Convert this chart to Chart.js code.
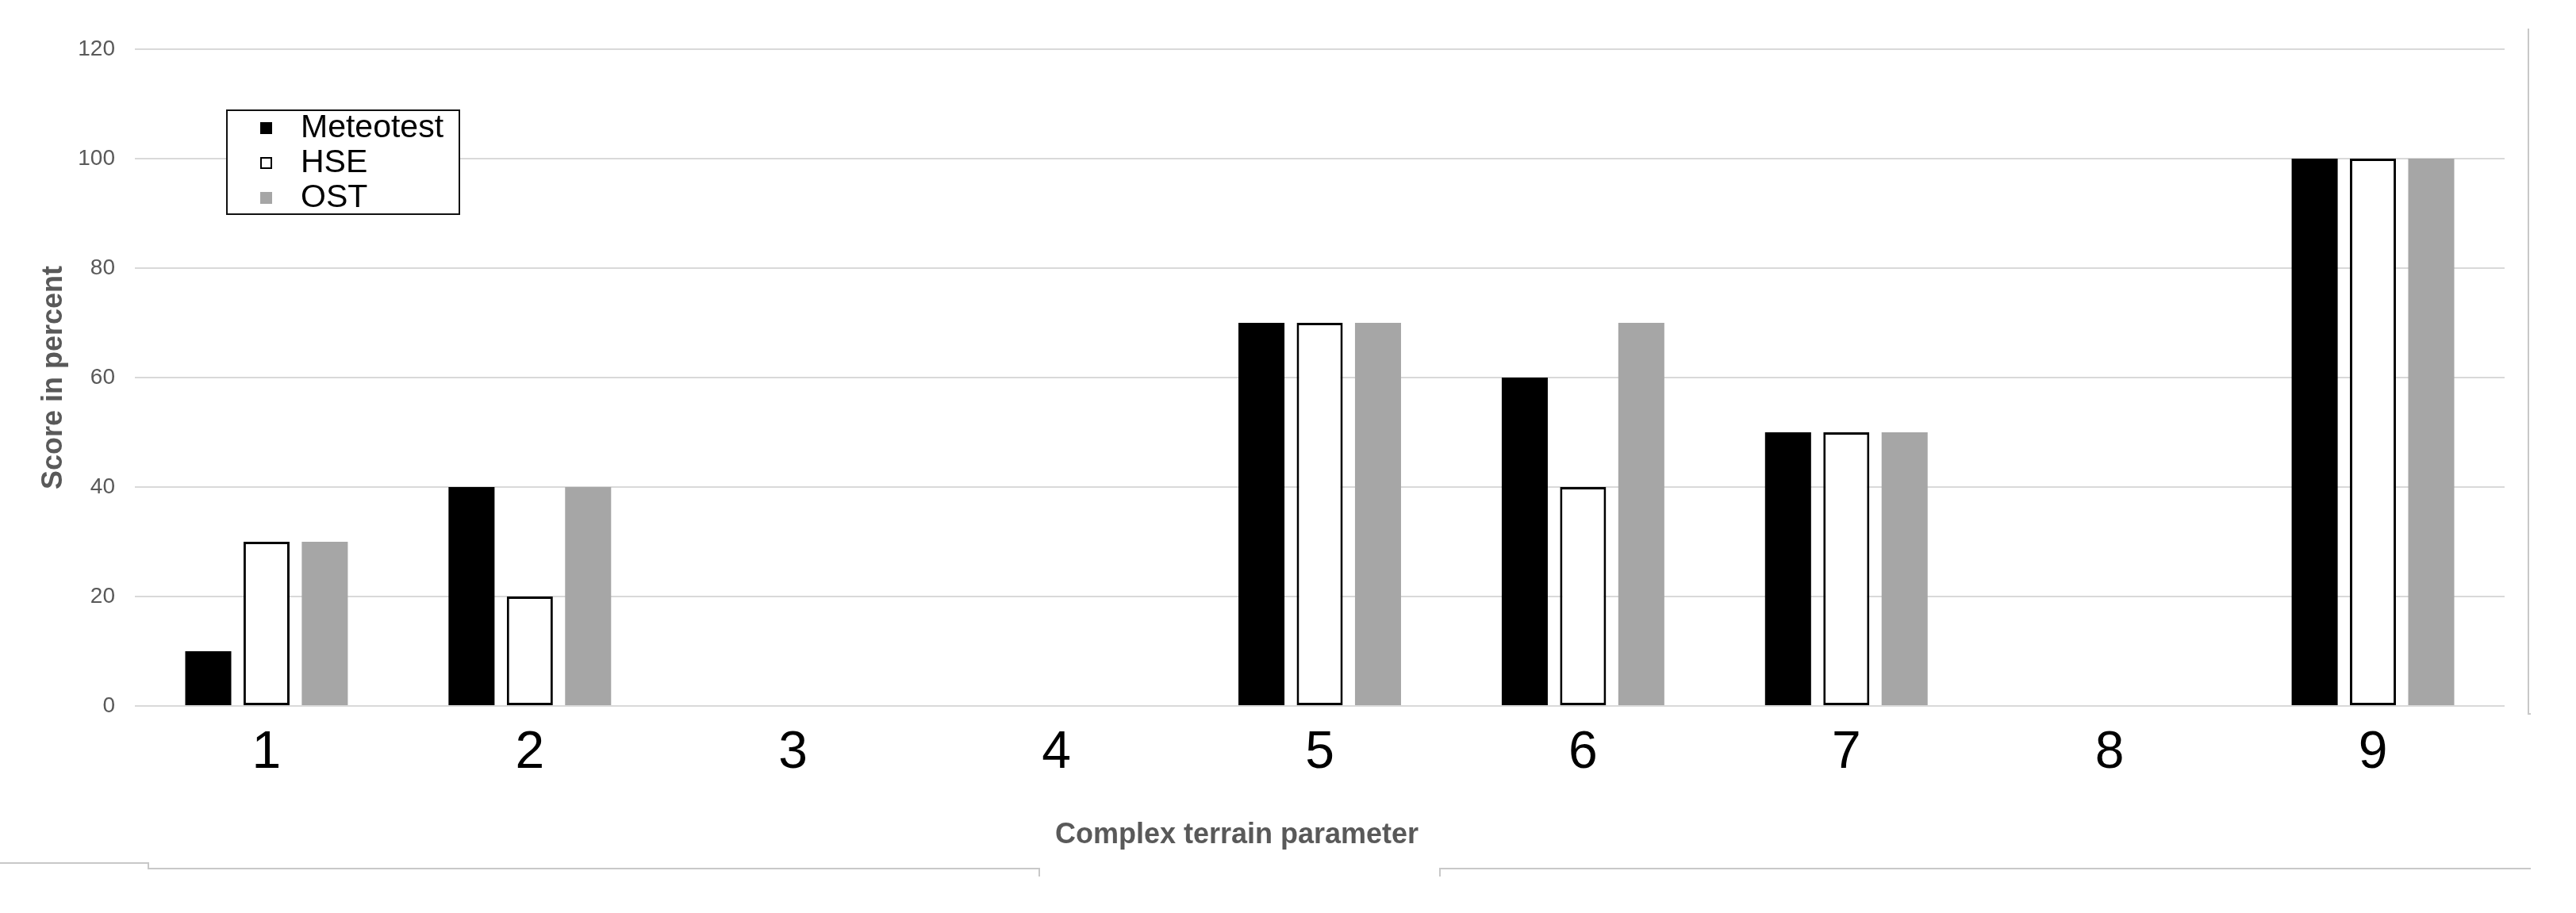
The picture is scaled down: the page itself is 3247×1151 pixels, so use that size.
<!DOCTYPE html>
<html>
<head>
<meta charset="utf-8">
<script src="https://cdn.jsdelivr.net/npm/chart.js@4/dist/chart.umd.min.js"></script>
<style>
  html, body { margin: 0; padding: 0; background: #fff; }
  #wrap { position: relative; width: 3247px; height: 1151px; overflow: hidden; }
  #chart { position: absolute; left: 0; top: 0; }
  .ln { position: absolute; background: #c8c8c8; }
  #legend { position: absolute; left: 285px; top: 138px; width: 291px; height: 129px;
            border: 2px solid #111; background: #fff; font-family: "Liberation Sans", Arial, sans-serif; }
  .item { position: absolute; left: 0; height: 44px; width: 100%; }
  .mk { position: absolute; left: 41px; width: 15px; height: 15px; box-sizing: border-box; }
  .tx { position: absolute; left: 92px; font-size: 41px; line-height: 44px; color: #000; }
</style>
</head>
<body>
<div id="wrap">
  <canvas id="chart" width="3247" height="1151"></canvas>
  <div id="legend"></div>
  <!-- page frame lines -->
  <div class="ln" style="left:3186px; top:36px; width:2px; height:865px;"></div>
  <div class="ln" style="left:3186px; top:899px; width:4px; height:2px;"></div>
  <div class="ln" style="left:0px; top:1087px; width:188px; height:2px;"></div>
  <div class="ln" style="left:186px; top:1087px; width:2px; height:9px;"></div>
  <div class="ln" style="left:186px; top:1094px; width:1124px; height:2px;"></div>
  <div class="ln" style="left:1309px; top:1094px; width:2px; height:11px;"></div>
  <div class="ln" style="left:1814px; top:1094px; width:2px; height:11px;"></div>
  <div class="ln" style="left:1814px; top:1094px; width:1376px; height:2px;"></div>
</div>
<script>
const categories = ['1', '2', '3', '4', '5', '6', '7', '8', '9'];
const seriesNames = ['Meteotest', 'HSE', 'OST'];
const meteotest = [10, 40, 0, 0, 70, 60, 50, 0, 100];
const hse       = [30, 20, 0, 0, 70, 40, 50, 0, 100];
const ost       = [30, 40, 0, 0, 70, 70, 50, 0, 100];
const yTicks = [0, 20, 40, 60, 80, 100, 120];
const xTitle = 'Complex terrain parameter';
const yTitle = 'Score in percent';

const FONT = '"Liberation Sans", Arial, sans-serif';

const datasets = [
  { label: seriesNames[0], data: meteotest, backgroundColor: '#000000', borderColor: '#000000', borderWidth: 0 },
  { label: seriesNames[1], data: hse, backgroundColor: '#ffffff', borderColor: '#000000', borderWidth: 3, borderSkipped: false },
  { label: seriesNames[2], data: ost, backgroundColor: '#a6a6a6', borderColor: '#a6a6a6', borderWidth: 0 }
];

// x-axis title drawn off-centre, as in the original figure
const xTitlePlugin = {
  id: 'xTitlePlugin',
  afterDraw(chart) {
    const ctx = chart.ctx;
    ctx.save();
    ctx.font = 'bold 36px ' + FONT;
    ctx.fillStyle = '#595959';
    ctx.textAlign = 'center';
    ctx.textBaseline = 'middle';
    ctx.fillText(xTitle, 1559, 1053);
    ctx.restore();
  }
};

const chart = new Chart(document.getElementById('chart'), {
  type: 'bar',
  data: { labels: categories, datasets: datasets },
  plugins: [xTitlePlugin],
  options: {
    responsive: false,
    animation: false,
    devicePixelRatio: 1,
    categoryPercentage: 0.664,
    barPercentage: 0.79,
    layout: { padding: { top: 62, right: 90, left: 0, bottom: 0 } },
    plugins: { legend: { display: false }, tooltip: { enabled: false } },
    scales: {
      x: {
        grid: { display: false },
        border: { display: false },
        ticks: { color: '#000', font: { family: FONT, size: 66 }, padding: 12, maxRotation: 0 },
        title: { display: false },
        afterFit: (s) => { s.height = 261; }
      },
      y: {
        min: yTicks[0], max: yTicks[yTicks.length - 1],
        afterBuildTicks: (s) => { s.ticks = yTicks.map(v => ({ value: v })); },
        grid: { color: '#d9d9d9', lineWidth: 2, drawTicks: false },
        border: { display: false },
        ticks: { color: '#595959', font: { family: FONT, size: 28 }, padding: 25 },
        title: { display: true, text: yTitle, color: '#595959',
                 font: { family: FONT, size: 36, weight: 'bold' }, padding: { top: 46, bottom: 0 } },
        afterFit: (s) => { s.width = 170; }
      }
    }
  }
});

// Build legend from the chart's datasets
const leg = document.getElementById('legend');
const rowTops = [-3, 41, 85];
chart.data.datasets.forEach((ds, i) => {
  const it = document.createElement('div');
  it.className = 'item';
  it.style.top = rowTops[i] + 'px';
  const mk = document.createElement('div');
  mk.className = 'mk';
  mk.style.top = '17px';
  mk.style.background = ds.backgroundColor;
  if (ds.borderWidth) mk.style.border = '2px solid ' + ds.borderColor;
  const tx = document.createElement('div');
  tx.className = 'tx';
  tx.style.top = '0px';
  tx.textContent = ds.label;
  it.appendChild(mk); it.appendChild(tx);
  leg.appendChild(it);
});
</script>
</body>
</html>
